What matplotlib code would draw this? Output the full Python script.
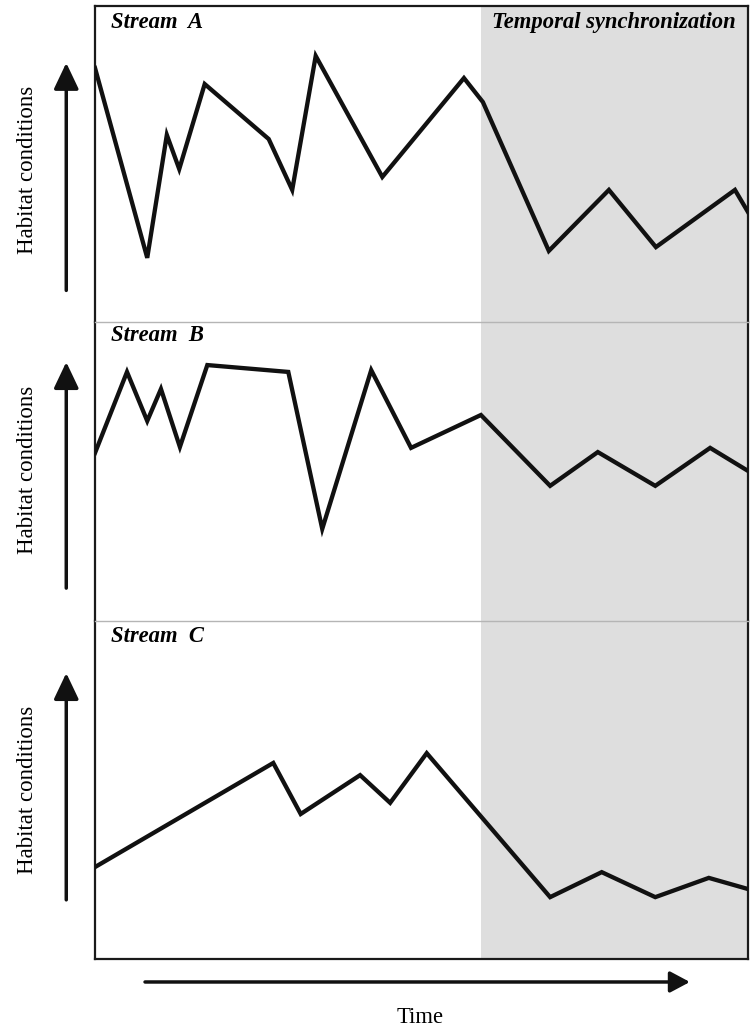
import matplotlib.pyplot as plt

# time runs 0..100 across the box, habitat conditions 0..10 inside each panel
time_a = [0, 8.0, 11.0, 12.9, 16.8, 26.6, 30.2, 33.8, 44.0, 56.5, 59.4, 69.5, 78.7, 85.9, 98.0, 100]
hab_a = [8.04, 2.03, 5.92, 4.84, 7.53, 5.79, 4.18, 8.42, 4.59, 7.72, 6.96, 2.25, 4.18, 2.37, 4.18, 3.48]

time_b = [0, 4.9, 8.0, 10.1, 13.0, 17.2, 29.6, 34.8, 42.3, 48.4, 59.1, 69.7, 77.0, 85.8, 94.2, 100]
hab_b = [5.62, 8.33, 6.69, 7.76, 5.82, 8.56, 8.33, 3.08, 8.39, 5.79, 6.89, 4.52, 5.65, 4.52, 5.79, 5.02]

time_c = [0, 27.3, 31.5, 40.6, 45.2, 50.8, 69.7, 77.6, 85.8, 94.0, 100]
hab_c = [2.72, 5.80, 4.29, 5.44, 4.62, 6.09, 1.83, 2.57, 1.83, 2.40, 2.07]

sync_start = 59.1
panel_names = ["Stream  A", "Stream  B", "Stream  C"]

W, H = 751, 1030
fig = plt.figure(figsize=(W / 100, H / 100), dpi=100)

left, right = 95 / W, 748 / W
bounds = [(6, 322), (322, 621), (621, 959)]  # pixel rows, top to bottom
series = [(time_a, hab_a), (time_b, hab_b), (time_c, hab_c)]
arrows = [(0.10, 0.82, 0.48), (0.11, 0.866, 0.505), (0.175, 0.846, 0.50)]

serif = "Liberation Serif"
axes = []
for i, ((top, bot), (t, h)) in enumerate(zip(bounds, series)):
    ax = fig.add_axes([left, 1 - bot / H, right - left, (bot - top) / H])
    ax.set_xlim(0, 100)
    ax.set_ylim(0, 10)
    ax.axvspan(sync_start, 100, color="#dedede", lw=0, zorder=0)
    ax.plot(t, h, color="#111111", lw=3.1, solid_joinstyle="miter", zorder=3)
    ax.set_xticks([])
    ax.set_yticks([])
    for s in ["left", "right"]:
        ax.spines[s].set_linewidth(1.6)
        ax.spines[s].set_color("#1a1a1a")
    # outer box top / bottom, light dividers between panels
    if i == 0:
        ax.spines["top"].set_linewidth(1.6)
        ax.spines["top"].set_color("#1a1a1a")
    else:
        ax.spines["top"].set_linewidth(1.0)
        ax.spines["top"].set_color("#b5b5b5")
    if i == 2:
        ax.spines["bottom"].set_linewidth(1.6)
        ax.spines["bottom"].set_color("#1a1a1a")
    else:
        ax.spines["bottom"].set_visible(False)

    ax.text(0.024, 0.948 if i == 0 else 0.955, panel_names[i], transform=ax.transAxes,
            family=serif, fontsize=16.3, fontweight="bold", fontstyle="italic",
            va="center", ha="left")

    y0, y1, ym = arrows[i]
    ax.annotate("", xy=(-0.044, y1), xytext=(-0.044, y0), xycoords="axes fraction",
                arrowprops=dict(arrowstyle="-|>,head_length=0.8,head_width=0.38",
                                mutation_scale=20, lw=2.5, color="#111111",
                                shrinkA=0, shrinkB=0),
                annotation_clip=False)
    ax.text(-0.104, ym, "Habitat conditions", transform=ax.transAxes, rotation=90,
            family=serif, fontsize=16.5, va="center", ha="center")
    axes.append(ax)

axes[0].text(0.981, 0.948, "Temporal synchronization", transform=axes[0].transAxes,
             family=serif, fontsize=16.3, fontweight="bold", fontstyle="italic",
             va="center", ha="right")

ax = axes[2]
ax.annotate("", xy=(0.911, -0.068), xytext=(0.0766, -0.068), xycoords="axes fraction",
            arrowprops=dict(arrowstyle="-|>,head_length=0.6,head_width=0.32",
                            mutation_scale=20, lw=2.5, color="#111111",
                            shrinkA=0, shrinkB=0),
            annotation_clip=False)
ax.text(0.498, -0.172, "Time", transform=ax.transAxes, family=serif, fontsize=16.3,
        ha="center", va="center")

fig.savefig("out.png", dpi=100)
